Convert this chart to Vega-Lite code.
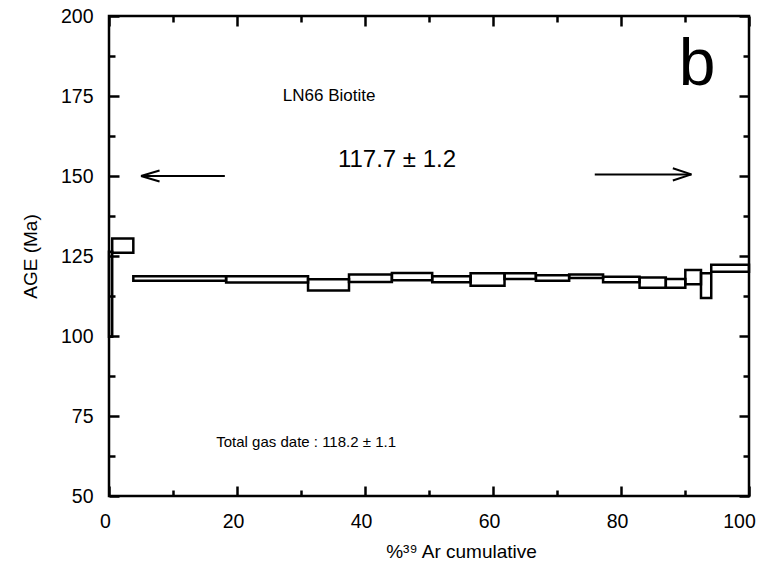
{
  "$schema": "https://vega.github.io/schema/vega-lite/v6.json",
  "width": 640,
  "height": 480,
  "autosize": {"type": "none"},
  "padding": {"left": 109, "top": 16, "right": 25, "bottom": 85},
  "background": "white",
  "config": {
    "view": {"stroke": "black", "strokeWidth": 2.5},
    "font": "Liberation Sans",
    "axis": {
      "domain": false,
      "grid": false,
      "tickColor": "black",
      "tickWidth": 2.5,
      "labelColor": "black",
      "titleColor": "black",
      "labelFont": "Liberation Sans",
      "titleFont": "Liberation Sans",
      "labelFontSize": 19.5,
      "titleFontSize": 19,
      "titleFontWeight": "normal",
      "labelFlush": false
    }
  },
  "datasets": {
    "steps": [
      {"x1": 0, "x2": 0.5, "lo": 99.8, "hi": 126.3},
      {"x1": 0.5, "x2": 3.8, "lo": 126, "hi": 130.5},
      {"x1": 3.8, "x2": 18.3, "lo": 117.3, "hi": 118.7},
      {"x1": 18.3, "x2": 31.1, "lo": 116.7, "hi": 118.7},
      {"x1": 31.1, "x2": 37.5, "lo": 114.2, "hi": 117.7},
      {"x1": 37.5, "x2": 44.2, "lo": 116.9, "hi": 119.2},
      {"x1": 44.2, "x2": 50.5, "lo": 117.4, "hi": 119.7},
      {"x1": 50.5, "x2": 56.5, "lo": 116.8, "hi": 118.7},
      {"x1": 56.5, "x2": 61.8, "lo": 115.7, "hi": 119.6},
      {"x1": 61.8, "x2": 66.7, "lo": 117.8, "hi": 119.6},
      {"x1": 66.7, "x2": 71.9, "lo": 117.3, "hi": 119.0},
      {"x1": 71.9, "x2": 77.2, "lo": 118.1, "hi": 119.2},
      {"x1": 77.2, "x2": 82.9, "lo": 116.8, "hi": 118.5},
      {"x1": 82.9, "x2": 87.0, "lo": 115.1, "hi": 118.3},
      {"x1": 87.0, "x2": 90.05, "lo": 115.1, "hi": 117.8},
      {"x1": 90.05, "x2": 92.5, "lo": 116.2, "hi": 120.6},
      {"x1": 92.5, "x2": 94.1, "lo": 111.9, "hi": 119.6},
      {"x1": 94.1, "x2": 100, "lo": 120.1, "hi": 122.3}
    ],
    "arrows": [
      {"x": 5, "y": 150, "x2": 18.1, "y2": 150},
      {"x": 5, "y": 150, "x2": 7.9, "y2": 151.7},
      {"x": 5, "y": 150, "x2": 7.9, "y2": 148.3},
      {"x": 75.9, "y": 150.5, "x2": 91.0, "y2": 150.5},
      {"x": 91.0, "y": 150.5, "x2": 88.1, "y2": 152.4},
      {"x": 91.0, "y": 150.5, "x2": 88.1, "y2": 148.6}
    ],
    "labels": [
      {"x": 91.9, "y": 184.7, "text": "b", "role": "panel"},
      {"x": 34.4, "y": 175, "text": "LN66 Biotite", "role": "sample"},
      {"x": 45, "y": 155, "text": "117.7 ± 1.2", "role": "plateau"},
      {"x": 30.8, "y": 66.9, "text": "Total gas date : 118.2 ± 1.1", "role": "total"}
    ]
  },
  "layer": [
    {
      "data": {"name": "steps"},
      "mark": {"type": "rect", "fill": "white", "fillOpacity": 0, "stroke": "black", "strokeWidth": 2.5},
      "encoding": {
        "x": {
          "field": "x1", "type": "quantitative",
          "scale": {"domain": [0, 100], "nice": false, "zero": false},
          "axis": {
            "orient": "bottom",
            "values": [0, 10, 20, 30, 40, 50, 60, 70, 80, 90, 100],
            "labelExpr": "datum.value % 20 === 0 ? datum.label : ''",
            "tickSize": {"condition": {"test": "datum.value % 20 === 0", "value": -10}, "value": -6},
            "labelPadding": 26,
            "labelOffset": {"condition": {"test": "datum.value === 100", "value": -10}, "value": -4},
            "title": "%³⁹ Ar cumulative",
            "titleX": 352,
            "titleY": 55,
            "titleBaseline": "middle",
            "titleAnchor": "middle"
          }
        },
        "x2": {"field": "x2"},
        "y": {
          "field": "lo", "type": "quantitative",
          "scale": {"domain": [50, 200], "nice": false, "zero": false},
          "axis": {
            "orient": "left",
            "values": [50, 62.5, 75, 87.5, 100, 112.5, 125, 137.5, 150, 162.5, 175, 187.5, 200],
            "labelExpr": "datum.value % 25 === 0 ? datum.label : ''",
            "tickSize": {"condition": {"test": "datum.value % 25 === 0", "value": -10}, "value": -6},
            "labelPadding": 26,
            "title": "AGE (Ma)",
            "titleX": -79,
            "titleY": 240,
            "titleBaseline": "middle",
            "titleAnchor": "middle"
          }
        },
        "y2": {"field": "hi"}
      }
    },
    {
      "data": {"name": "arrows"},
      "mark": {"type": "rule", "stroke": "black", "strokeWidth": 2},
      "encoding": {
        "x": {
          "field": "x", "type": "quantitative",
          "axis": {
            "orient": "top",
            "values": [0, 10, 20, 30, 40, 50, 60, 70, 80, 90, 100],
            "labels": false,
            "tickSize": {"condition": {"test": "datum.value % 20 === 0", "value": -10}, "value": -6},
            "title": null
          }
        },
        "x2": {"field": "x2"},
        "y": {
          "field": "y", "type": "quantitative",
          "axis": {
            "orient": "right",
            "values": [50, 62.5, 75, 87.5, 100, 112.5, 125, 137.5, 150, 162.5, 175, 187.5, 200],
            "labels": false,
            "tickSize": {"condition": {"test": "datum.value % 25 === 0", "value": -10}, "value": -6},
            "title": null
          }
        },
        "y2": {"field": "y2"}
      }
    },
    {
      "data": {"name": "labels"},
      "transform": [{"filter": "datum.role === 'panel'"}],
      "mark": {"type": "text", "align": "center", "baseline": "middle", "color": "black", "font": "Liberation Sans", "fontSize": 66},
      "encoding": {
        "x": {"field": "x", "type": "quantitative", "axis": null},
        "y": {"field": "y", "type": "quantitative", "axis": null},
        "text": {"field": "text"}
      }
    },
    {
      "data": {"name": "labels"},
      "transform": [{"filter": "datum.role === 'sample'"}],
      "mark": {"type": "text", "align": "center", "baseline": "middle", "color": "black", "font": "Liberation Sans", "fontSize": 17},
      "encoding": {
        "x": {"field": "x", "type": "quantitative", "axis": null},
        "y": {"field": "y", "type": "quantitative", "axis": null},
        "text": {"field": "text"}
      }
    },
    {
      "data": {"name": "labels"},
      "transform": [{"filter": "datum.role === 'plateau'"}],
      "mark": {"type": "text", "align": "center", "baseline": "middle", "color": "black", "font": "Liberation Sans", "fontSize": 24},
      "encoding": {
        "x": {"field": "x", "type": "quantitative", "axis": null},
        "y": {"field": "y", "type": "quantitative", "axis": null},
        "text": {"field": "text"}
      }
    },
    {
      "data": {"name": "labels"},
      "transform": [{"filter": "datum.role === 'total'"}],
      "mark": {"type": "text", "align": "center", "baseline": "middle", "color": "black", "font": "Liberation Sans", "fontSize": 15},
      "encoding": {
        "x": {"field": "x", "type": "quantitative", "axis": null},
        "y": {"field": "y", "type": "quantitative", "axis": null},
        "text": {"field": "text"}
      }
    }
  ],
  "resolve": {"axis": {"x": "independent", "y": "independent"}}
}
